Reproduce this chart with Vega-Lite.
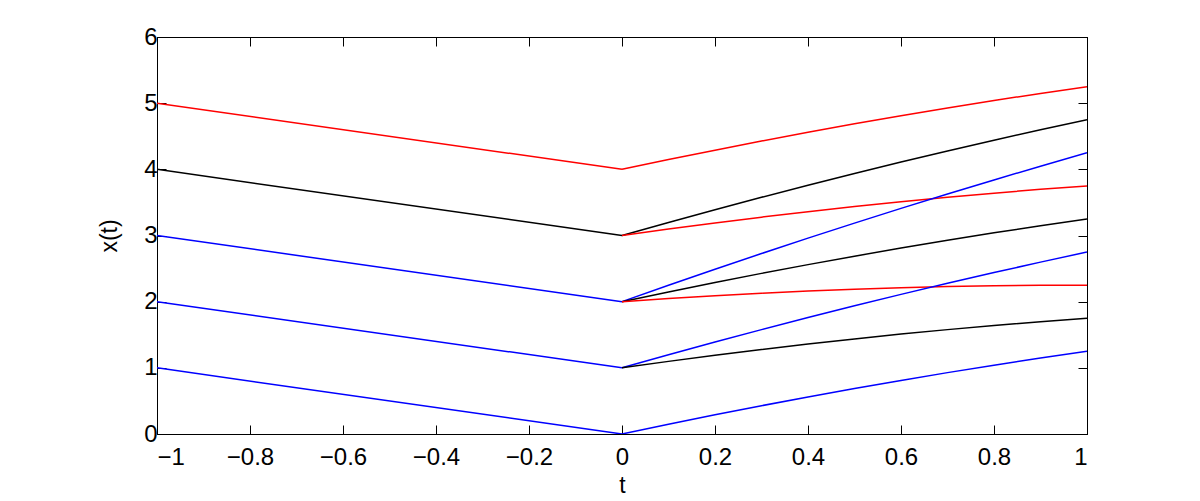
{
  "$schema": "https://vega.github.io/schema/vega-lite/v6.json",
  "autosize": {"type": "none"},
  "padding": {"left": 157, "top": 37, "right": 113, "bottom": 67},
  "width": 930,
  "height": 397,
  "background": "white",
  "config": {
    "view": {"stroke": "black", "strokeWidth": 1},
    "font": "Liberation Sans",
    "axis": {
      "grid": false,
      "domainColor": "black",
      "tickColor": "black",
      "labelColor": "black",
      "titleColor": "black",
      "labelFont": "Liberation Sans",
      "titleFont": "Liberation Sans",
      "labelFontSize": 24,
      "titleFontSize": 23,
      "titleFontWeight": "normal",
      "tickSize": -9,
      "domainWidth": 1,
      "tickWidth": 1
    }
  },
  "data": {
    "values": [
      {"s": "L5", "c": "red", "t": -1, "x": 5}, {"s": "L5", "c": "red", "t": 0, "x": 4},
      {"s": "L4", "c": "black", "t": -1, "x": 4}, {"s": "L4", "c": "black", "t": 0, "x": 3},
      {"s": "L3", "c": "blue", "t": -1, "x": 3}, {"s": "L3", "c": "blue", "t": 0, "x": 2},
      {"s": "L2", "c": "blue", "t": -1, "x": 2}, {"s": "L2", "c": "blue", "t": 0, "x": 1},
      {"s": "L1", "c": "blue", "t": -1, "x": 1}, {"s": "L1", "c": "blue", "t": 0, "x": 0},

      {"s": "R4", "c": "red", "t": 0, "x": 4}, {"s": "R4", "c": "red", "t": 0.1, "x": 4.1475}, {"s": "R4", "c": "red", "t": 0.2, "x": 4.29}, {"s": "R4", "c": "red", "t": 0.3, "x": 4.4275}, {"s": "R4", "c": "red", "t": 0.4, "x": 4.56}, {"s": "R4", "c": "red", "t": 0.5, "x": 4.6875}, {"s": "R4", "c": "red", "t": 0.6, "x": 4.81}, {"s": "R4", "c": "red", "t": 0.7, "x": 4.9275}, {"s": "R4", "c": "red", "t": 0.8, "x": 5.04}, {"s": "R4", "c": "red", "t": 0.9, "x": 5.1475}, {"s": "R4", "c": "red", "t": 1, "x": 5.25},

      {"s": "K3", "c": "black", "t": 0, "x": 3}, {"s": "K3", "c": "black", "t": 0.1, "x": 3.1975}, {"s": "K3", "c": "black", "t": 0.2, "x": 3.39}, {"s": "K3", "c": "black", "t": 0.3, "x": 3.5775}, {"s": "K3", "c": "black", "t": 0.4, "x": 3.76}, {"s": "K3", "c": "black", "t": 0.5, "x": 3.9375}, {"s": "K3", "c": "black", "t": 0.6, "x": 4.11}, {"s": "K3", "c": "black", "t": 0.7, "x": 4.2775}, {"s": "K3", "c": "black", "t": 0.8, "x": 4.44}, {"s": "K3", "c": "black", "t": 0.9, "x": 4.5975}, {"s": "K3", "c": "black", "t": 1, "x": 4.75},

      {"s": "R3", "c": "red", "t": 0, "x": 3}, {"s": "R3", "c": "red", "t": 0.1, "x": 3.0975}, {"s": "R3", "c": "red", "t": 0.2, "x": 3.19}, {"s": "R3", "c": "red", "t": 0.3, "x": 3.2775}, {"s": "R3", "c": "red", "t": 0.4, "x": 3.36}, {"s": "R3", "c": "red", "t": 0.5, "x": 3.4375}, {"s": "R3", "c": "red", "t": 0.6, "x": 3.51}, {"s": "R3", "c": "red", "t": 0.7, "x": 3.5775}, {"s": "R3", "c": "red", "t": 0.8, "x": 3.64}, {"s": "R3", "c": "red", "t": 0.9, "x": 3.6975}, {"s": "R3", "c": "red", "t": 1, "x": 3.75},

      {"s": "B2", "c": "blue", "t": 0, "x": 2}, {"s": "B2", "c": "blue", "t": 0.1, "x": 2.2475}, {"s": "B2", "c": "blue", "t": 0.2, "x": 2.49}, {"s": "B2", "c": "blue", "t": 0.3, "x": 2.7275}, {"s": "B2", "c": "blue", "t": 0.4, "x": 2.96}, {"s": "B2", "c": "blue", "t": 0.5, "x": 3.1875}, {"s": "B2", "c": "blue", "t": 0.6, "x": 3.41}, {"s": "B2", "c": "blue", "t": 0.7, "x": 3.6275}, {"s": "B2", "c": "blue", "t": 0.8, "x": 3.84}, {"s": "B2", "c": "blue", "t": 0.9, "x": 4.0475}, {"s": "B2", "c": "blue", "t": 1, "x": 4.25},

      {"s": "K2", "c": "black", "t": 0, "x": 2}, {"s": "K2", "c": "black", "t": 0.1, "x": 2.1475}, {"s": "K2", "c": "black", "t": 0.2, "x": 2.29}, {"s": "K2", "c": "black", "t": 0.3, "x": 2.4275}, {"s": "K2", "c": "black", "t": 0.4, "x": 2.56}, {"s": "K2", "c": "black", "t": 0.5, "x": 2.6875}, {"s": "K2", "c": "black", "t": 0.6, "x": 2.81}, {"s": "K2", "c": "black", "t": 0.7, "x": 2.9275}, {"s": "K2", "c": "black", "t": 0.8, "x": 3.04}, {"s": "K2", "c": "black", "t": 0.9, "x": 3.1475}, {"s": "K2", "c": "black", "t": 1, "x": 3.25},

      {"s": "R2", "c": "red", "t": 0, "x": 2}, {"s": "R2", "c": "red", "t": 0.1, "x": 2.0475}, {"s": "R2", "c": "red", "t": 0.2, "x": 2.09}, {"s": "R2", "c": "red", "t": 0.3, "x": 2.1275}, {"s": "R2", "c": "red", "t": 0.4, "x": 2.16}, {"s": "R2", "c": "red", "t": 0.5, "x": 2.1875}, {"s": "R2", "c": "red", "t": 0.6, "x": 2.21}, {"s": "R2", "c": "red", "t": 0.7, "x": 2.2275}, {"s": "R2", "c": "red", "t": 0.8, "x": 2.24}, {"s": "R2", "c": "red", "t": 0.9, "x": 2.2475}, {"s": "R2", "c": "red", "t": 1, "x": 2.25},

      {"s": "B1", "c": "blue", "t": 0, "x": 1}, {"s": "B1", "c": "blue", "t": 0.1, "x": 1.1975}, {"s": "B1", "c": "blue", "t": 0.2, "x": 1.39}, {"s": "B1", "c": "blue", "t": 0.3, "x": 1.5775}, {"s": "B1", "c": "blue", "t": 0.4, "x": 1.76}, {"s": "B1", "c": "blue", "t": 0.5, "x": 1.9375}, {"s": "B1", "c": "blue", "t": 0.6, "x": 2.11}, {"s": "B1", "c": "blue", "t": 0.7, "x": 2.2775}, {"s": "B1", "c": "blue", "t": 0.8, "x": 2.44}, {"s": "B1", "c": "blue", "t": 0.9, "x": 2.5975}, {"s": "B1", "c": "blue", "t": 1, "x": 2.75},

      {"s": "K1", "c": "black", "t": 0, "x": 1}, {"s": "K1", "c": "black", "t": 0.1, "x": 1.0975}, {"s": "K1", "c": "black", "t": 0.2, "x": 1.19}, {"s": "K1", "c": "black", "t": 0.3, "x": 1.2775}, {"s": "K1", "c": "black", "t": 0.4, "x": 1.36}, {"s": "K1", "c": "black", "t": 0.5, "x": 1.4375}, {"s": "K1", "c": "black", "t": 0.6, "x": 1.51}, {"s": "K1", "c": "black", "t": 0.7, "x": 1.5775}, {"s": "K1", "c": "black", "t": 0.8, "x": 1.64}, {"s": "K1", "c": "black", "t": 0.9, "x": 1.6975}, {"s": "K1", "c": "black", "t": 1, "x": 1.75},

      {"s": "B0", "c": "blue", "t": 0, "x": 0}, {"s": "B0", "c": "blue", "t": 0.1, "x": 0.1475}, {"s": "B0", "c": "blue", "t": 0.2, "x": 0.29}, {"s": "B0", "c": "blue", "t": 0.3, "x": 0.4275}, {"s": "B0", "c": "blue", "t": 0.4, "x": 0.56}, {"s": "B0", "c": "blue", "t": 0.5, "x": 0.6875}, {"s": "B0", "c": "blue", "t": 0.6, "x": 0.81}, {"s": "B0", "c": "blue", "t": 0.7, "x": 0.9275}, {"s": "B0", "c": "blue", "t": 0.8, "x": 1.04}, {"s": "B0", "c": "blue", "t": 0.9, "x": 1.1475}, {"s": "B0", "c": "blue", "t": 1, "x": 1.25}
    ]
  },
  "resolve": {"axis": {"x": "independent", "y": "independent"}},
  "layer": [
    {
      "mark": {"type": "line", "strokeWidth": 1.5, "clip": true},
      "encoding": {
        "x": {
          "field": "t", "type": "quantitative",
          "scale": {"domain": [-1, 1], "nice": false, "zero": false},
          "axis": {
            "orient": "bottom",
            "values": [-1, -0.8, -0.6, -0.4, -0.2, 0, 0.2, 0.4, 0.6, 0.8, 1],
            "format": "~g",
            "labelPadding": 20,
            "title": "t",
            "titlePadding": 5
          }
        },
        "y": {
          "field": "x", "type": "quantitative",
          "scale": {"domain": [0, 6], "nice": false, "zero": false},
          "axis": {
            "orient": "left",
            "values": [0, 1, 2, 3, 4, 5, 6],
            "format": "d",
            "labelPadding": 9,
            "title": "x(t)",
            "titlePadding": 22
          }
        },
        "color": {
          "field": "c", "type": "nominal",
          "scale": {"domain": ["red", "black", "blue"], "range": ["#ff0000", "#000000", "#0000ff"]},
          "legend": null
        },
        "detail": {"field": "s"},
        "order": {"field": "t"}
      }
    },
    {
      "mark": {"type": "line", "strokeWidth": 0, "opacity": 0},
      "encoding": {
        "x": {
          "field": "t", "type": "quantitative",
          "axis": {
            "orient": "top",
            "values": [-1, -0.8, -0.6, -0.4, -0.2, 0, 0.2, 0.4, 0.6, 0.8, 1],
            "labels": false,
            "title": null
          }
        },
        "y": {
          "field": "x", "type": "quantitative",
          "axis": {
            "orient": "right",
            "values": [0, 1, 2, 3, 4, 5, 6],
            "labels": false,
            "title": null
          }
        },
        "detail": {"field": "s"}
      }
    }
  ]
}
